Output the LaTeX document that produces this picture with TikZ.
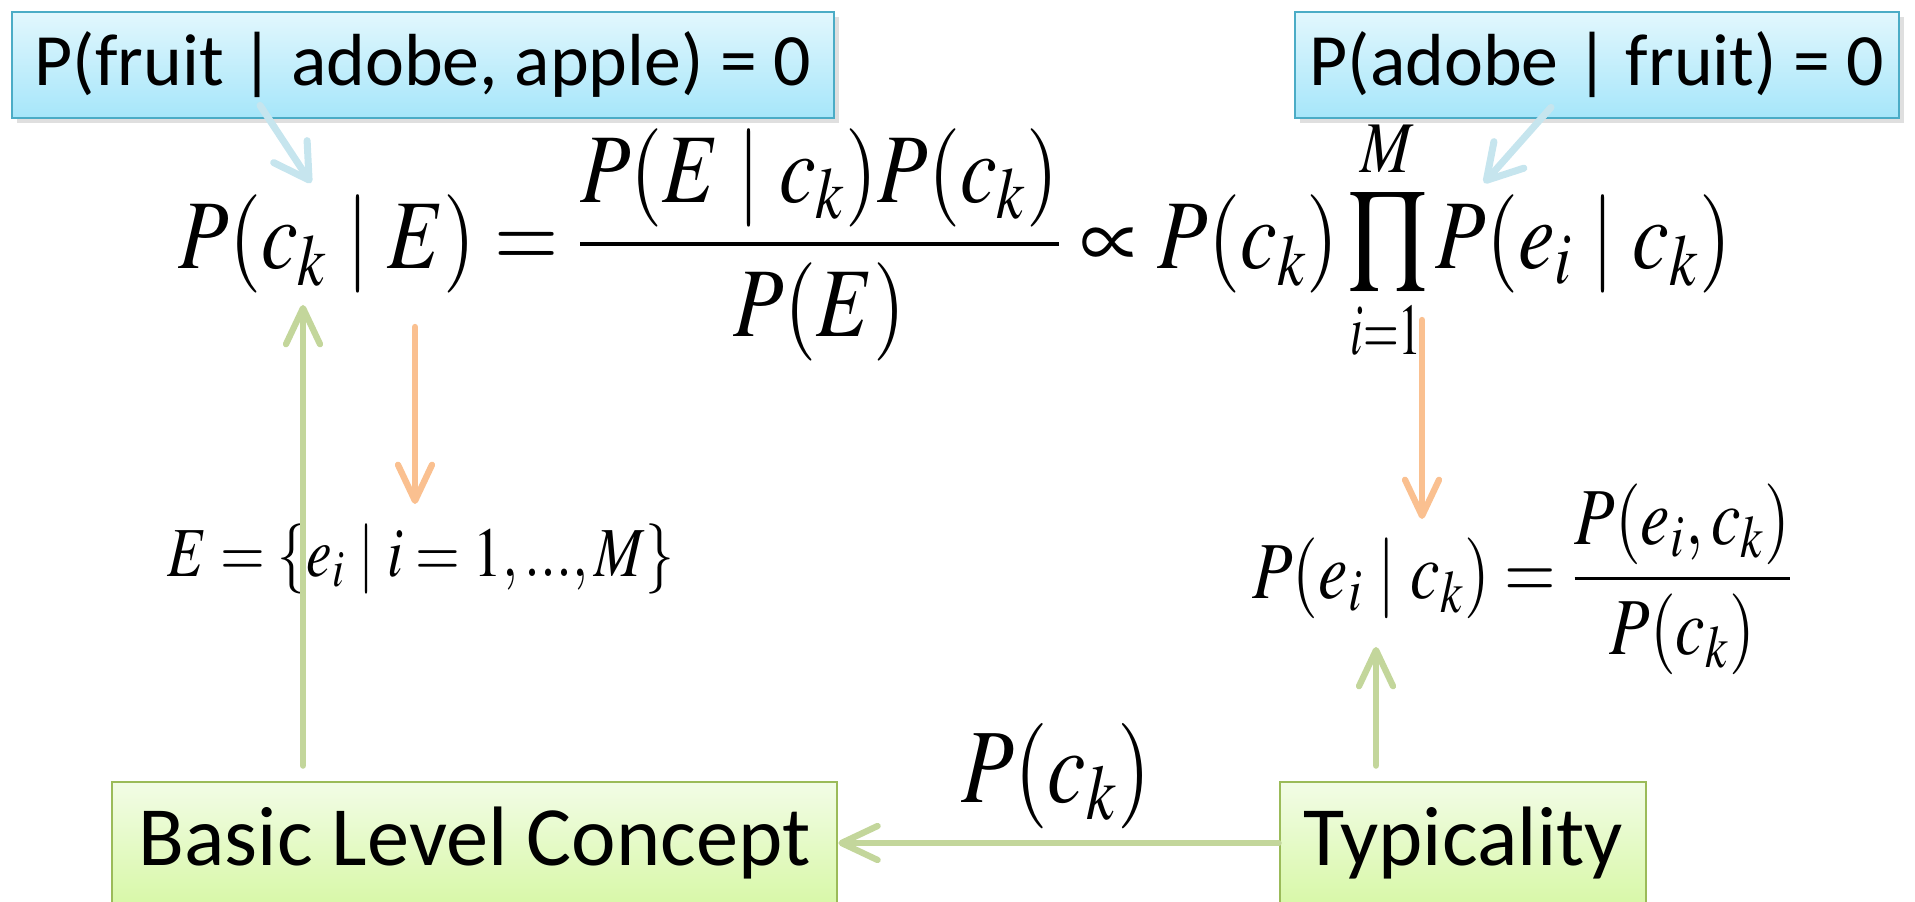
\documentclass[tikz,border=0pt]{standalone}
\usepackage{mathptmx}
\usepackage[no-math]{fontspec}
\newfontfamily\calibri{Carlito}
\usetikzlibrary{arrows.meta,shadows}

\newcommand{\mtnarrow}[2][0.82]{\scalebox{#1}[1]{#2}}
\thickmuskip=4mu plus 2mu
\medmuskip=3mu plus 1mu

\tikzset{
  notebox/.style={draw=noteedge, line width=0.8pt, top color=notetop, bottom color=notebot,
    font=\calibri\fontsize{21}{25}\selectfont, minimum height=1.06cm, inner xsep=0.12cm,
    drop shadow={opacity=0.25, shadow xshift=0.05cm, shadow yshift=-0.05cm}},
  conceptbox/.style={draw=conceptedge, line width=0.8pt, top color=concepttop, bottom color=conceptbot,
    font=\calibri\fontsize{24}{29}\selectfont, minimum height=1.22cm, inner xsep=0.12cm},
  hint/.style={draw=hintblue, line width=2pt, -{Straight Barb[length=3.4mm, width=4mm, round]}},
  derive/.style={draw=deriveorange, line width=1.8pt, -{Straight Barb[length=3.6mm, width=3.4mm, round]}},
  support/.style={draw=supportgreen, line width=1.8pt, -{Straight Barb[length=3.6mm, width=3.4mm, round]}},
}

\begin{document}
\begin{tikzpicture}[line cap=round]
  \definecolor{noteedge}{HTML}{4BACC6}
  \definecolor{notetop}{HTML}{E2F7FD}
  \definecolor{notebot}{HTML}{A6E6FA}
  \definecolor{conceptedge}{HTML}{9BBB59}
  \definecolor{concepttop}{HTML}{F2FCE6}
  \definecolor{conceptbot}{HTML}{D8F8A8}
  \definecolor{hintblue}{HTML}{C6E5EE}
  \definecolor{deriveorange}{HTML}{FAC090}
  \definecolor{supportgreen}{HTML}{C3D69B}
  \useasboundingbox (0,0) rectangle (19.15,9.01);
  % formulas
  \node[font=\fontsize{28}{34}\selectfont] (bayes) at (9.55,6.61)
    {\mtnarrow[0.84]{$\displaystyle P(c_k\mid E)=\frac{P(E\mid c_k)P(c_k)}{P(E)}\propto P(c_k)\mathop{\scalebox{1.15}{$\textstyle\prod$}}\limits_{\mtnarrow[0.75]{$\scriptstyle i=1$}}^{M}P(e_i\mid c_k)$}};
  \node[font=\fontsize{20}{24}\selectfont] (evid) at (4.21,3.42) {\mtnarrow{$E=\{e_i\mid i=1,...,M\}$}};
  \node[font=\fontsize{23}{28}\selectfont] (lik) at (15.23,3.22)
    {\mtnarrow{$\displaystyle P(e_i\mid c_k)=\frac{P(e_i,c_k)}{P(c_k)}$}};
  \node[font=\fontsize{30}{36}\selectfont] (prior) at (10.56,1.25) {\mtnarrow{$P(c_k)$}};
  % notes on top
  \node[notebox, minimum width=8.22cm] (fruitq) at (4.23,8.36) {P(fruit | adobe, apple) = 0};
  \node[notebox, minimum width=6.04cm] (adobeq) at (15.97,8.36) {P(adobe | fruit) = 0};
  % concepts at the bottom
  \node[conceptbox, minimum width=7.25cm] (basic) at (4.745,0.58) {Basic Level Concept};
  \node[conceptbox, minimum width=3.66cm] (typ) at (14.63,0.58) {Typicality};
  % free arrow ends
  \coordinate (ckhint) at (3.11,7.18);
  \coordinate (prodhint) at (14.84,7.18);
  \coordinate (eout) at (4.15,5.74);
  \coordinate (ein) at (4.15,3.97);
  \coordinate (prodout) at (14.22,5.81);
  \coordinate (likin) at (14.22,3.82);
  \coordinate (ckfoot) at (3.03,5.96);
  \coordinate (likfoot) at (13.76,2.54);
  % arrows
  \draw[hint] ([xshift=-1.63cm]fruitq.south) ++(0,0.14) -- (ckhint);
  \draw[hint] ([xshift=-0.46cm]adobeq.south) ++(0,0.12) -- (prodhint);
  \draw[derive] (eout) -- (ein);
  \draw[derive] (prodout) -- (likin);
  \draw[support] (basic.north -| ckfoot) ++(0,0.15) -- (ckfoot);
  \draw[support] (typ.north -| likfoot) ++(0,0.15) -- (likfoot);
  \draw[support] (typ.west) -- (basic.east);
\end{tikzpicture}
\end{document}
